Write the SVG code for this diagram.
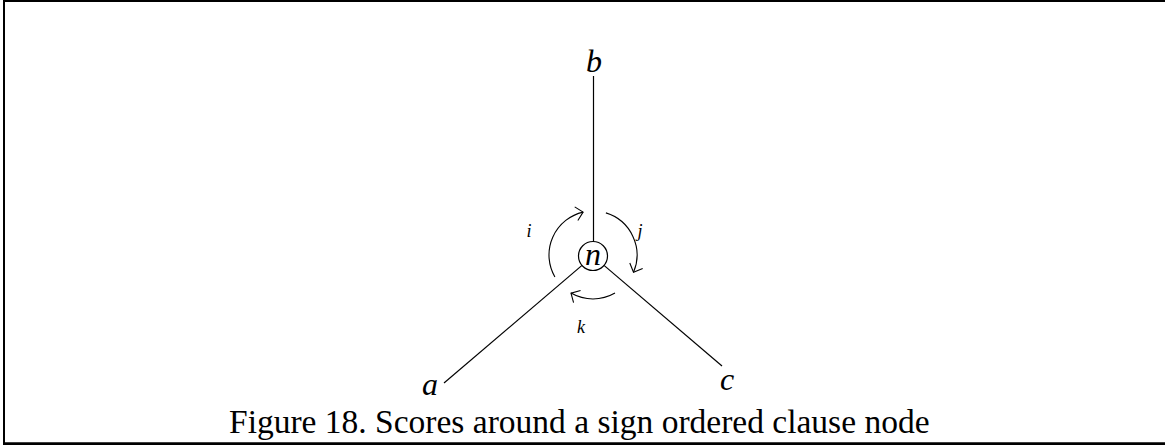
<svg xmlns="http://www.w3.org/2000/svg" width="1165" height="445" viewBox="0 0 1165 445">
<style>
.ln{stroke:#000;stroke-width:1.2;fill:none}
.arc{stroke:#000;stroke-width:1.1;fill:none;marker-end:url(#ah)}
.lbl{font-family:"Liberation Serif","Times New Roman",serif;font-style:italic;font-size:32px;text-anchor:middle;fill:#000}
.sm{font-family:"Liberation Serif","Times New Roman",serif;font-style:italic;font-size:18px;text-anchor:middle;fill:#000}
.cap{font-family:"Liberation Serif","Times New Roman",serif;font-size:33.5px;fill:#000}
</style>
<defs>
<marker id="ah" markerUnits="userSpaceOnUse" markerWidth="20" markerHeight="20" refX="0" refY="0" viewBox="-10 -10 20 20" orient="auto">
<path d="M -7,-7 L 0,0 L -7,7" stroke="#000" stroke-width="1.1" fill="none"/>
</marker>
</defs>
<rect width="1165" height="445" fill="#fff"/>
<g id="frame">
<line x1="3" y1="1" x2="1165" y2="1" stroke="#000" stroke-width="2"/>
<line x1="4" y1="0" x2="4" y2="443" stroke="#000" stroke-width="2"/>
<line x1="3" y1="443.6" x2="1165" y2="443.6" stroke="#000" stroke-width="2.8"/>
</g>
<g id="connectors">
<line class="ln" x1="593.5" y1="76" x2="593.5" y2="241.5"/>
<line class="ln" x1="582" y1="265.4" x2="444" y2="383"/>
<line class="ln" x1="604" y1="265.4" x2="722" y2="366"/>
<path id="arc-i" class="arc" d="M 554.9,277 A 44,44 0 0 1 583.1,212.1"/>
<path id="arc-j" class="arc" d="M 605.9,212.9 A 44,44 0 0 1 633.5,272.2"/>
<path id="arc-k" class="arc" d="M 615,293.1 A 44,44 0 0 1 571,293.1"/>
</g>
<g id="node-n">
<circle cx="593" cy="256" r="14.5" fill="none" stroke="#000" stroke-width="1.2"/>
<text class="lbl" x="593" y="265">n</text>
</g>
<g id="node-b"><text class="lbl" x="594" y="72">b</text></g>
<g id="node-a"><text class="lbl" x="430" y="395">a</text></g>
<g id="node-c"><text class="lbl" x="727" y="390">c</text></g>
<g id="label-i"><text class="sm" x="529" y="237">i</text></g>
<g id="label-j"><text class="sm" x="640" y="237">j</text></g>
<g id="label-k"><text class="sm" x="581" y="333">k</text></g>
<g id="caption"><text class="cap" x="229" y="433">Figure 18. Scores around a sign ordered clause node</text></g>
</svg>
